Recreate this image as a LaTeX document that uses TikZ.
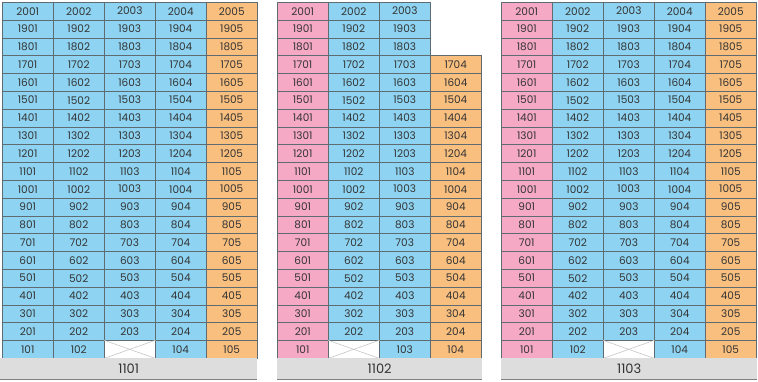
\documentclass[tikz,border=0pt]{standalone}
\usepackage{fontspec}
\setmainfont{Poppins}
\usetikzlibrary{positioning}
\definecolor{unitblue}{HTML}{8ED4F2}
\definecolor{unitorange}{HTML}{F9BF7F}
\definecolor{unitpink}{HTML}{F5A9C5}
\definecolor{basegray}{HTML}{DDDDDD}
\definecolor{gridline}{HTML}{5E6B70}
\definecolor{numtext}{HTML}{333333}
\tikzset{
  unit/.style={draw=gridline, line width=0.5pt, anchor=north west, inner sep=0pt,
    minimum width=51pt, minimum height=17.8pt, text=numtext,
    font=\fontsize{10.5}{12}\selectfont},
  voidunit/.style={unit, fill=white},
  crossline/.style={draw=gray!45, line width=0.6pt},
  basebar/.style={anchor=north west, fill=basegray, inner sep=0pt,
    minimum height=21pt, text=numtext, font=\fontsize{13}{15}\selectfont},
  baseline/.style={draw=gray, line width=0.8pt}
}
\begin{document}
\begin{tikzpicture}[x=1pt,y=-1pt]
\useasboundingbox (0,0) rectangle (758,382);
% block 1101
\foreach \fl in {2,...,20}{
  \foreach \c/\col in {1/unitblue,2/unitblue,3/unitblue,4/unitblue,5/unitorange}{
    \node[unit, fill=\col] (a-\fl-\c) at ({2+(\c-1)*51},{2+(20-\fl)*17.8}) {\the\numexpr\fl*100+\c\relax};
  }
}
\node[unit, fill=unitblue] (a-1-1) at (2,340.2) {101};
\node[unit, fill=unitblue] (a-1-2) at (53,340.2) {102};
\node[voidunit] (a-1-3) at (104,340.2) {};
\node[unit, fill=unitblue] (a-1-4) at (155,340.2) {104};
\node[unit, fill=unitorange] (a-1-5) at (206,340.2) {105};
\draw[crossline] (a-1-3.north west) -- (a-1-3.south east);
\draw[crossline] (a-1-3.south west) -- (a-1-3.north east);
\node[basebar, minimum width=257pt] (base1) at (0,358) {1101};
\draw[baseline] (base1.south west) -- (base1.south east);
% block 1102
\foreach \fl in {2,...,20}{
  \foreach \c/\col in {1/unitpink,2/unitblue,3/unitblue}{
    \node[unit, fill=\col] (b-\fl-\c) at ({277+(\c-1)*51},{2+(20-\fl)*17.8}) {\the\numexpr\fl*100+\c\relax};
  }
}
\foreach \fl in {2,...,17}{
  \node[unit, fill=unitorange] (b-\fl-4) at (430,{2+(20-\fl)*17.8}) {\the\numexpr\fl*100+4\relax};
}
\node[unit, fill=unitpink] (b-1-1) at (277,340.2) {101};
\node[voidunit] (b-1-2) at (328,340.2) {};
\node[unit, fill=unitblue] (b-1-3) at (379,340.2) {103};
\node[unit, fill=unitorange] (b-1-4) at (430,340.2) {104};
\draw[crossline] (b-1-2.north west) -- (b-1-2.south east);
\draw[crossline] (b-1-2.south west) -- (b-1-2.north east);
\node[basebar, minimum width=205pt] (base2) at (277,358) {1102};
\draw[baseline] (base2.south west) -- (base2.south east);
% block 1103
\foreach \fl in {2,...,20}{
  \foreach \c/\col in {1/unitpink,2/unitblue,3/unitblue,4/unitblue,5/unitorange}{
    \node[unit, fill=\col] (c-\fl-\c) at ({501+(\c-1)*51},{2+(20-\fl)*17.8}) {\the\numexpr\fl*100+\c\relax};
  }
}
\node[unit, fill=unitpink] (c-1-1) at (501,340.2) {101};
\node[unit, fill=unitblue] (c-1-2) at (552,340.2) {102};
\node[voidunit] (c-1-3) at (603,340.2) {};
\node[unit, fill=unitblue] (c-1-4) at (654,340.2) {104};
\node[unit, fill=unitorange] (c-1-5) at (705,340.2) {105};
\draw[crossline] (c-1-3.north west) -- (c-1-3.south east);
\draw[crossline] (c-1-3.south west) -- (c-1-3.north east);
\node[basebar, minimum width=256pt] (base3) at (501,358) {1103};
\draw[baseline] (base3.south west) -- (base3.south east);
\end{tikzpicture}
\end{document}
